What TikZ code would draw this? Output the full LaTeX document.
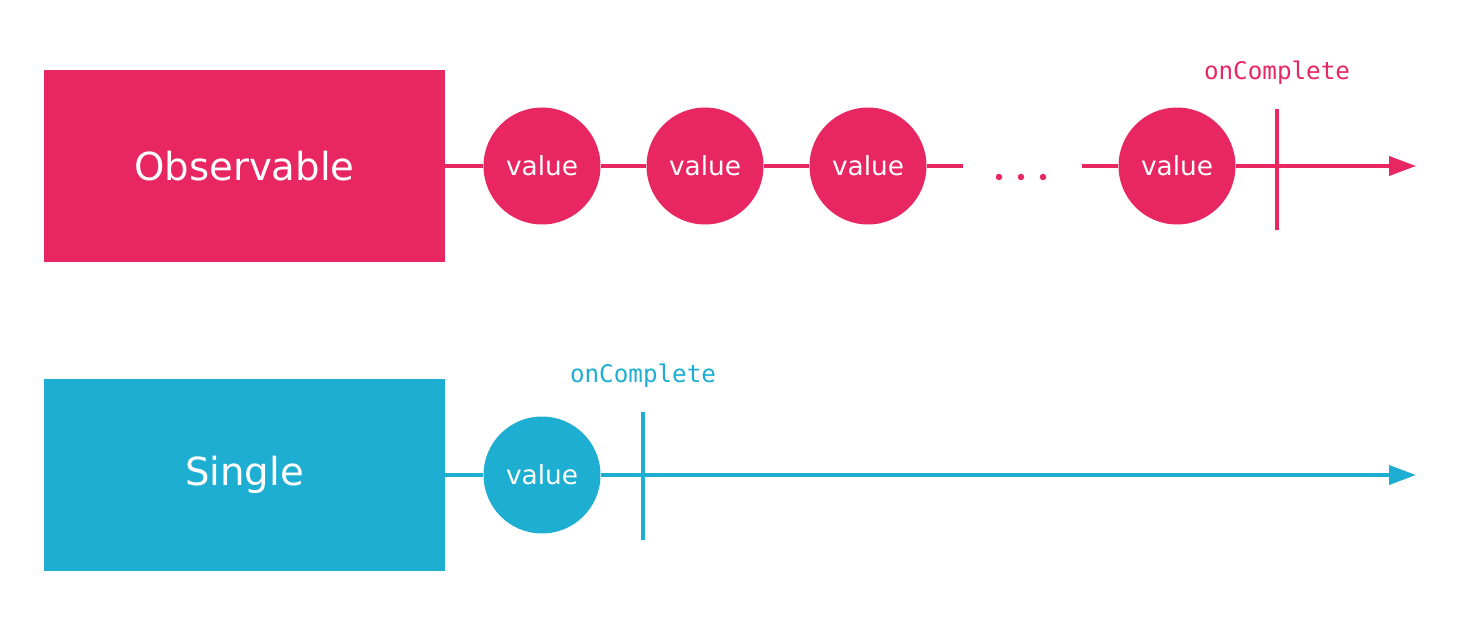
\documentclass[tikz,border=0pt]{standalone}
\usepackage{fontspec}
\setmainfont{DejaVu Sans}
\newfontfamily\codefont{DejaVu Sans Mono}
\usetikzlibrary{arrows.meta}
\definecolor{obspink}{HTML}{E82662}
\definecolor{singleblue}{HTML}{1EAED1}

\begin{document}
\begin{tikzpicture}[x=0.02cm, y=-0.02cm,
			box_style/.style={rectangle, inner sep=0pt, minimum width=8.02cm, minimum height=3.84cm, text=white, font=\fontsize{22}{26}\selectfont},
			value_style/.style={circle, inner sep=0pt, minimum size=2.34cm, text=white, font=\fontsize{15}{18}\selectfont},
			dot_style/.style={circle, inner sep=0pt, minimum size=0.13cm},
			edge_style/.style={line width=2.2pt},
			label_style/.style={font=\codefont\fontsize{13.8}{16}\selectfont},
			tip/.style={-{Triangle[length=0.54cm,width=0.38cm]}}]
			
			\useasboundingbox (0,0) rectangle (1466,622);
			
			% Observable
			\begin{scope}[color=obspink]
				\node[box_style, fill=obspink] (obs) at (244.5,166) {Observable};
				\foreach \x/\y in {542/1,705/2,868/3,1177/4}{
					\node[value_style, fill=obspink] (v\y) at (\x,166) {value};}
				\foreach \x/\y in {999/1,1021/2,1043/3}{
					\node[dot_style, fill=obspink] (dot\y) at (\x,177) {};}
				\coordinate (gapa) at (963,166);
				\coordinate (gapb) at (1082,166);
				\coordinate (obsend) at (1416,166);
				\coordinate (obstop) at (1277,109);
				\coordinate (obsbot) at (1277,230);
				
				\draw[edge_style] (obs) -- (v1);
				\foreach \x/\y in {1/2,2/3}{
					\draw[edge_style] (v\x) -- (v\y);}
				\draw[edge_style] (v3) -- (gapa);
				\draw[edge_style] (gapb) -- (v4);
				\draw[edge_style, tip] (v4) -- (obsend);
				\draw[edge_style] (obstop) -- (obsbot);
				\node[label_style, text=obspink] (obsdone) at (1277,73) {onComplete};
			\end{scope}
			
			% Single
			\begin{scope}[color=singleblue]
				\node[box_style, fill=singleblue] (single) at (244.5,475) {Single};
				\node[value_style, fill=singleblue] (sv) at (542,475) {value};
				\coordinate (singleend) at (1416,475);
				\coordinate (singletop) at (643,412);
				\coordinate (singlebot) at (643,540);
				
				\draw[edge_style] (single) -- (sv);
				\draw[edge_style, tip] (sv) -- (singleend);
				\draw[edge_style] (singletop) -- (singlebot);
				\node[label_style, text=singleblue] (singledone) at (643,376) {onComplete};
			\end{scope}
		\end{tikzpicture}
\end{document}
